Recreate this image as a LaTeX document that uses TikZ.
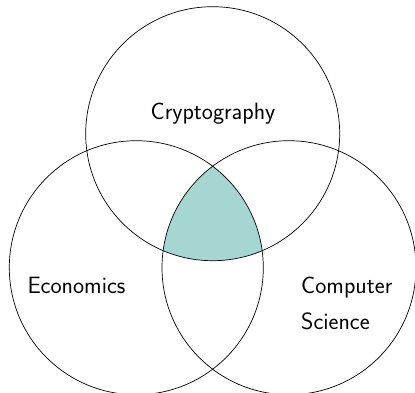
\documentclass[tikz,border=0pt]{standalone}
\definecolor{venn}{RGB}{166,214,209}
\begin{document}
\begin{tikzpicture}[x=1pt,y=-1pt,
  circ/.style={draw=black,line width=0.7pt},
  lbl/.style={font=\fontsize{23.6}{28}\sffamily\selectfont,inner sep=0pt}]
\useasboundingbox (0,0) rectangle (415,392);
\coordinate (ct) at (212.7,133.7);
\coordinate (cl) at (136.3,267.7);
\coordinate (cr) at (289,267.7);
\begin{scope}
  \clip (ct) circle (127);
  \clip (cl) circle (127);
  \fill[venn] (cr) circle (127);
\end{scope}
\draw[circ] (ct) circle (127);
\draw[circ] (cl) circle (127);
\draw[circ] (cr) circle (127);
\node[lbl,anchor=base] (crypto) at (213,119) {Cryptography};
\node[lbl,anchor=base west] (econ) at (27.3,293) {Economics};
\node[lbl,anchor=base west] (comp) at (301,293) {Computer};
\node[lbl,anchor=base west] (sci) at (301,329) {Science};
\end{tikzpicture}
\end{document}
